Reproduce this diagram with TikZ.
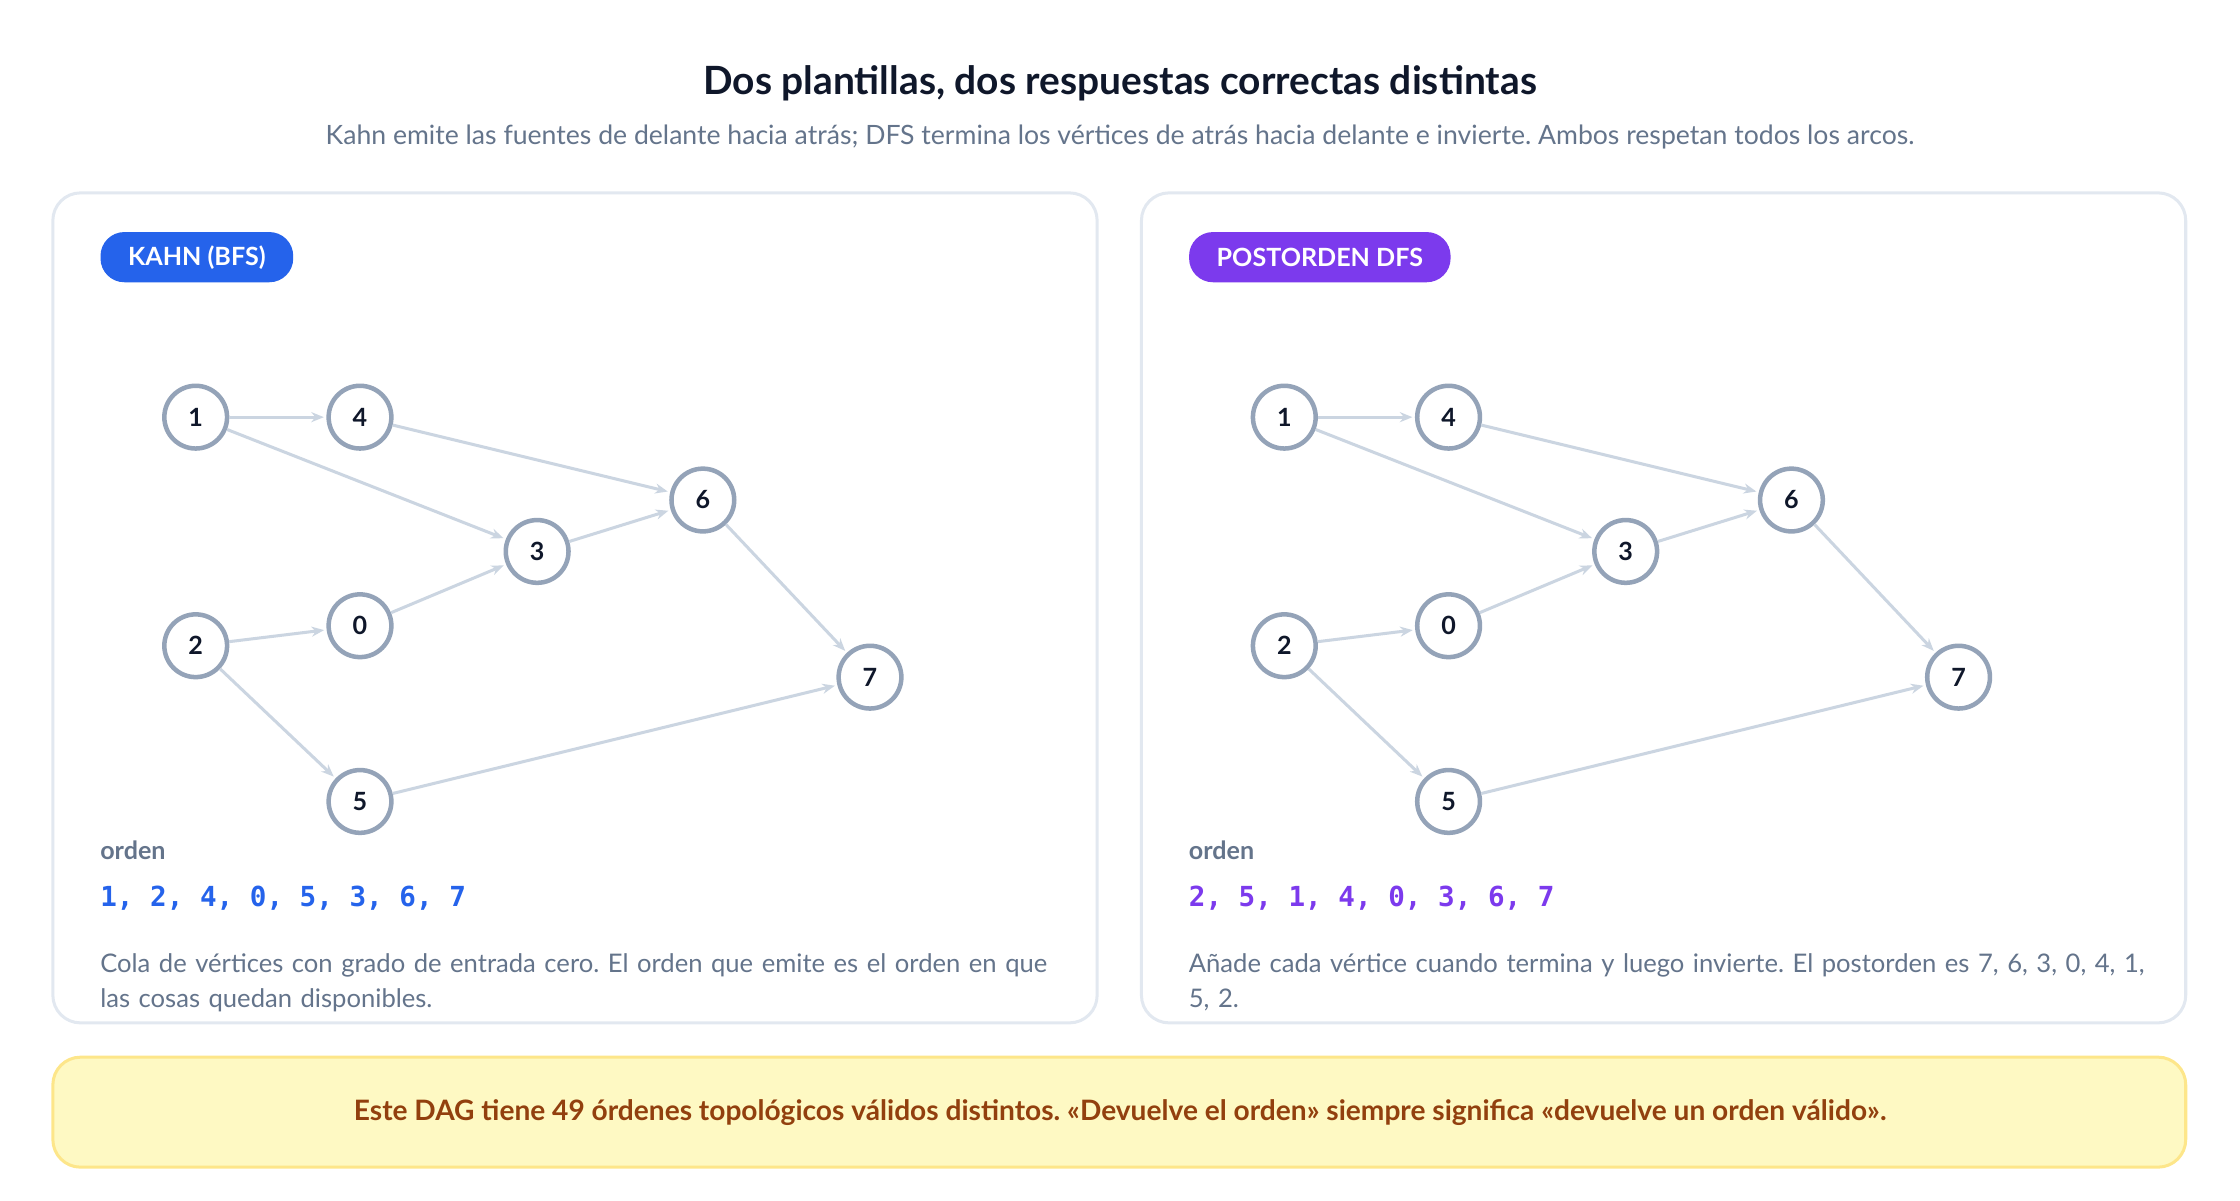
\documentclass[tikz,border=0pt]{standalone}
\usepackage{fontspec}
\setmainfont{Lato}
\setmonofont{DejaVu Sans Mono}
\usetikzlibrary{arrows.meta}
\frenchspacing
\definecolor{ink}{HTML}{0F172A}
\definecolor{muted}{HTML}{64748B}
\definecolor{panelline}{HTML}{E2E8F0}
\definecolor{ring}{HTML}{94A3B8}
\definecolor{arc}{HTML}{CBD5E1}
\definecolor{kahn}{HTML}{2563EB}
\definecolor{dfs}{HTML}{7C3AED}
\definecolor{notefill}{HTML}{FEF9C3}
\definecolor{noteline}{HTML}{FDE68A}
\definecolor{notetext}{HTML}{92400E}
\tikzset{
  panel/.style={draw=panelline,line width=1.2pt,rounded corners=11pt,fill=white},
  badge/.style={rounded corners=9.5pt,minimum height=20pt,inner xsep=11pt,text=white,font=\bfseries\fontsize{10}{11}\selectfont,anchor=west},
  vert/.style={circle,draw=ring,line width=1.8pt,fill=white,minimum size=25pt,inner sep=0pt,font=\bfseries\fontsize{10}{11}\selectfont,text=ink},
  edge/.style={draw=arc,line width=1.2pt,-{Stealth[length=5pt,width=4pt]},shorten >=1pt},
  label/.style={anchor=west,font=\bfseries\fontsize{10}{11}\selectfont,text=muted},
  seq/.style={anchor=west,font=\ttfamily\bfseries\fontsize{11}{13}\selectfont},
  desc/.style={anchor=north west,align=left,text width=13.4cm,font=\fontsize{10.2}{14.2}\selectfont,text=muted},
}
\begin{document}
\begin{tikzpicture}[x=0.02cm,y=-0.02cm]
\useasboundingbox (0,0) rectangle (1568,840);
% title
\node[font=\bfseries\fontsize{15.5}{17}\selectfont,text=ink] (title) at (784,58) {Dos plantillas, dos respuestas correctas distintas};
\node[font=\fontsize{10.6}{12}\selectfont,text=muted] (subtitle) at (784,96) {Kahn emite las fuentes de delante hacia atrás; DFS termina los vértices de atrás hacia delante e invierte. Ambos respetan todos los arcos.};
% panels
\draw[panel] (37,135) rectangle (768,716);
\draw[panel] (799,135) rectangle (1530,716);
% left panel: Kahn
\node[badge,fill=kahn] (kbadge) at (70,180) {KAHN (BFS)};
\foreach \n/\x/\y in {1/137/292,4/252/292,6/492/350,3/376/386,0/252/438,2/137/452,7/609/474,5/252/561}
  \node[vert] (k\n) at (\x,\y) {\n};
\foreach \a/\b in {1/4,1/3,4/6,3/6,0/3,2/0,2/5,6/7,5/7}
  \draw[edge] (k\a) -- (k\b);
\node[label] (klabel) at (64,595) {orden};
\node[seq,text=kahn] (kseq) at (64,629) {1, 2, 4, 0, 5, 3, 6, 7};
\node[desc] (kdesc) at (64,661) {Cola de vértices con grado de entrada cero. El orden que emite es el orden en que las cosas quedan disponibles.};
% right panel: DFS
\node[badge,fill=dfs] (dbadge) at (832,180) {POSTORDEN DFS};
\begin{scope}[xshift=762*0.02cm]
\foreach \n/\x/\y in {1/137/292,4/252/292,6/492/350,3/376/386,0/252/438,2/137/452,7/609/474,5/252/561}
  \node[vert] (d\n) at (\x,\y) {\n};
\end{scope}
\foreach \a/\b in {1/4,1/3,4/6,3/6,0/3,2/0,2/5,6/7,5/7}
  \draw[edge] (d\a) -- (d\b);
\node[label] (dlabel) at (826,595) {orden};
\node[seq,text=dfs] (dseq) at (826,629) {2, 5, 1, 4, 0, 3, 6, 7};
\node[desc] (ddesc) at (826,661) {Añade cada vértice cuando termina y luego invierte. El postorden es 7, 6, 3, 0, 4, 1, 5, 2.};
% note
\draw[draw=noteline,fill=notefill,line width=1.2pt,rounded corners=11pt] (37,740) rectangle (1530,817);
\node[font=\bfseries\fontsize{11.2}{13}\selectfont,text=notetext] (note) at (784,779) {Este DAG tiene 49 órdenes topológicos válidos distintos. «Devuelve el orden» siempre significa «devuelve un orden válido».};
\end{tikzpicture}
\end{document}
